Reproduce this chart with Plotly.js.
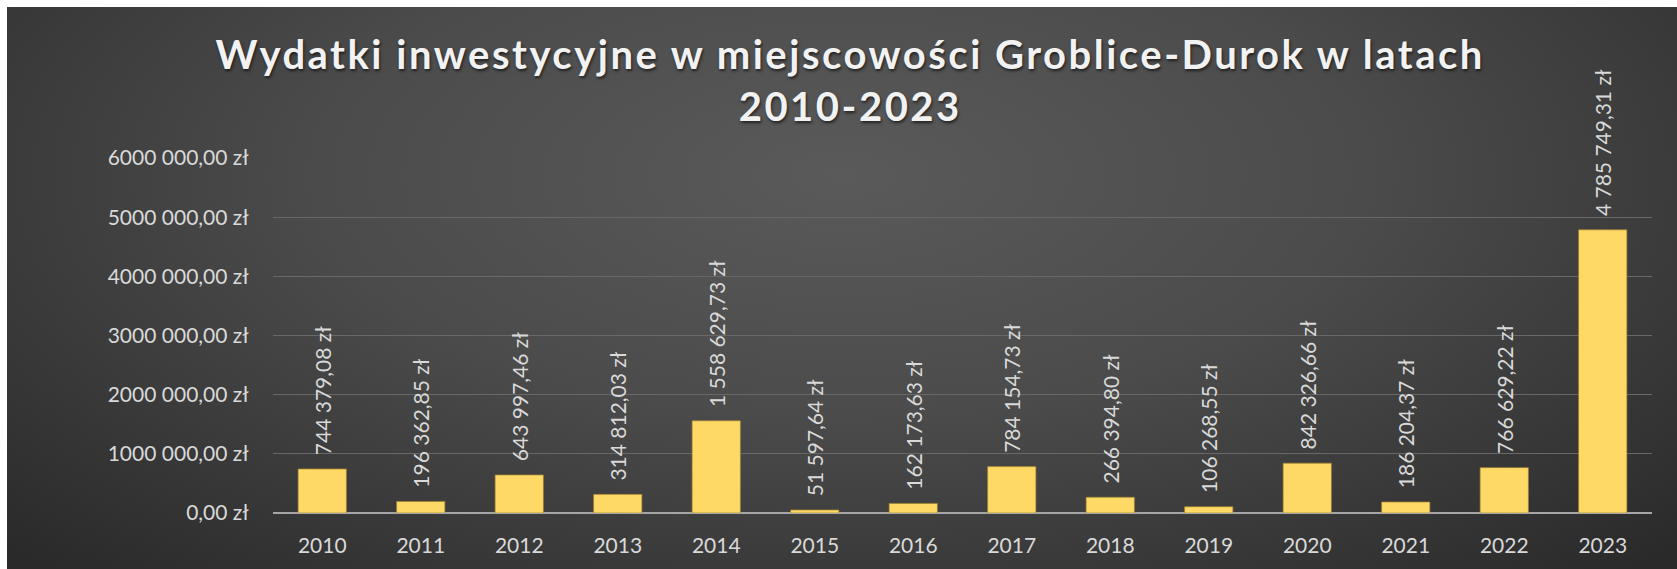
<!DOCTYPE html>
<html>
<head>
<meta charset="utf-8">
<script src="https://cdn.plot.ly/plotly-3.0.1.min.js"></script>
<style>
    body { margin: 0; background: #ffffff; }
    #bg {
        position: absolute; left: 7px; top: 7px; width: 1670px; height: 562px;
        background: radial-gradient(ellipse 70% 95% at 50% 30%, #5a5a5a 0%, #4b4b4b 45%, #2a2a2a 100%);
    }
    #chart { position: absolute; left: 0; top: 0; width: 1677px; height: 569px; }
    .gtitle { letter-spacing: 2.5px; }
</style>
</head>
<body>
<div id="bg"></div>
<div id="chart"></div>
<script>
//data
let years = ['2010', '2011', '2012', '2013', '2014', '2015', '2016',
    '2017', '2018', '2019', '2020', '2021', '2022', '2023'];
let spending = [744379.08, 196362.85, 643997.46, 314812.03, 1558629.73, 51597.64, 162173.63,
    784154.73, 266394.80, 106268.55, 842326.66, 186204.37, 766629.22, 4785749.31];
let yTickVals = [0, 1000000, 2000000, 3000000, 4000000, 5000000, 6000000];
let yTickText = ['0,00 zł', '1000 000,00 zł', '2000 000,00 zł', '3000 000,00 zł',
    '4000 000,00 zł', '5000 000,00 zł', '6000 000,00 zł'];

//functions
function formatZloty(v) {
    let parts = v.toFixed(2).split('.');
    let whole = parts[0].replace(/\B(?=(\d{3})+(?!\d))/g, ' ');
    return whole + ',' + parts[1] + ' zł';
}

let labelColor = '#d9d9d9';

let barTrace = {
    x: years,
    y: spending,
    type: 'bar',
    // leading nbsp gives the gap between bar top and label
    text: spending.map(function(v) { return '\u00a0\u00a0' + formatZloty(v); }),
    textposition: 'outside',
    textangle: -90,
    constraintext: 'none',
    cliponaxis: false,
    textfont: {family: 'Lato, sans-serif', size: 21, color: labelColor},
    marker: {color: '#ffd966', line: {color: 'rgba(160,130,50,0.7)', width: 1}},
    hoverinfo: 'none'
};

let layout = {
    width: 1677,
    height: 569,
    paper_bgcolor: 'rgba(0,0,0,0)',
    plot_bgcolor: 'rgba(0,0,0,0)',
    margin: {l: 273, r: 25, t: 158, b: 56},
    bargap: 0.51,
    showlegend: false,
    title: {
        text: 'Wydatki inwestycyjne w miejscowości Groblice-Durok w latach<br>2010-2023',
        x: 0.507,
        xanchor: 'center',
        yref: 'container',
        y: 1 - 69 / 569,
        yanchor: 'middle',
        font: {family: 'Lato, sans-serif', size: 40, weight: 700, color: '#f2f2f2',
            shadow: '1px 2px 3px rgba(0,0,0,0.6)'}
    },
    xaxis: {
        type: 'category',
        ticks: 'outside',
        ticklen: 14,
        tickcolor: 'rgba(0,0,0,0)',
        tickfont: {family: 'Lato, sans-serif', size: 21, color: labelColor},
        showgrid: false,
        showline: false
    },
    yaxis: {
        range: [0, 6000000],
        tickvals: yTickVals,
        ticktext: yTickText,
        tickfont: {family: 'Lato, sans-serif', size: 21, color: labelColor},
        ticks: 'outside',
        ticklen: 19,
        tickcolor: 'rgba(0,0,0,0)',
        gridcolor: '#686868',
        gridwidth: 1,
        zeroline: true,
        zerolinecolor: '#a6a6a6',
        zerolinewidth: 2
    }
};

Plotly.newPlot('chart', [barTrace], layout, {staticPlot: true});
</script>
</body>
</html>
